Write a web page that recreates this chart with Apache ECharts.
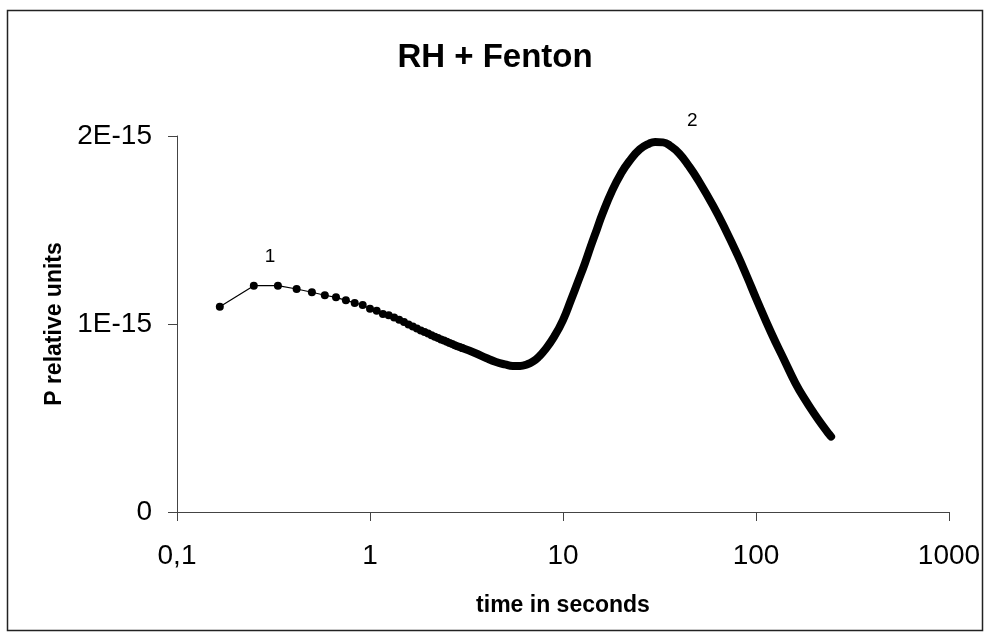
<!DOCTYPE html>
<html>
<head>
<meta charset="utf-8">
<script src="https://cdn.jsdelivr.net/npm/echarts@6/dist/echarts.min.js"></script>
<style>
  html, body { margin: 0; padding: 0; background: #fff; }
  #chart { width: 990px; height: 639px; }
</style>
</head>
<body>
<div id="chart"></div>
<script>
// early samples, one every 1/12 s (drawn as dots)
var dotTimes = [
  2/12, 3/12, 4/12, 5/12, 6/12, 7/12, 8/12, 9/12, 10/12, 11/12, 1, 13/12,
  14/12, 15/12, 16/12, 17/12, 18/12, 19/12, 20/12, 21/12, 22/12, 23/12, 2, 25/12,
  26/12, 27/12, 28/12, 29/12, 30/12, 31/12, 32/12, 33/12, 34/12, 35/12, 3
]
var dotValues = [
  1.092, 1.204, 1.204, 1.186, 1.169, 1.153, 1.142, 1.126, 1.112, 1.101, 1.081, 1.071,
  1.053, 1.046, 1.034, 1.023, 1.011, 0.998, 0.987, 0.976, 0.966, 0.957, 0.949, 0.940,
  0.932, 0.925, 0.918, 0.912, 0.906, 0.899, 0.893, 0.887, 0.882, 0.877, 0.872
]
// later part, samples so dense that the dots merge into a thick band
var bandTimes = [
  3, 3.5, 4, 4.5, 5, 5.5, 6, 6.5, 7, 7.5, 8, 9, 10, 11, 12, 13, 14, 15, 16, 18,
  20, 22, 25, 28, 30, 33, 36, 40, 45, 50, 60, 70, 80, 90, 100, 120, 140, 160, 180,
  200, 220, 240, 245
]
var bandValues = [
  0.872, 0.846, 0.819, 0.798, 0.785, 0.777, 0.777, 0.785, 0.801, 0.826, 0.858, 0.933,
  1.021, 1.128, 1.229, 1.324, 1.420, 1.505, 1.585, 1.711, 1.801, 1.864, 1.929, 1.960,
  1.968, 1.966, 1.947, 1.907, 1.839, 1.768, 1.628, 1.495, 1.370, 1.250, 1.138, 0.952,
  0.809, 0.686, 0.596, 0.524, 0.463, 0.412, 0.401
]
var unit = 1e-15
var yTicks = ['0', '1E-15', '2E-15']
var peakIndex = 27 // point the "2" label hangs on

var dots = dotTimes.map(function (t, i) {
  var item = { value: [t, dotValues[i] * unit] }
  if (i === 2) {
    item.label = { show: true, formatter: '1', position: 'top', offset: [-8, -10] }
  }
  return item
})
var band = bandTimes.map(function (t, i) {
  return [t, bandValues[i] * unit]
})

var myChart = echarts.init(document.getElementById('chart'))
myChart.setOption({
  animation: false,
  backgroundColor: '#fff',
  textStyle: { fontFamily: 'Liberation Sans, Arial, sans-serif', color: '#000' },
  title: {
    text: 'RH + Fenton',
    left: 'center',
    top: 36,
    textStyle: { fontSize: 33, fontWeight: 'bold', color: '#000', fontFamily: 'Liberation Sans' }
  },
  graphic: [{
    type: 'rect',
    shape: { x: 7.5, y: 10.5, width: 975, height: 620 },
    style: { fill: 'none', stroke: '#222', lineWidth: 1.5 },
    silent: true
  }],
  grid: { left: 177, right: 41, top: 136, bottom: 127, containLabel: false },
  xAxis: {
    type: 'log',
    logBase: 10,
    min: 0.1,
    max: 1000,
    name: 'time in seconds',
    nameLocation: 'middle',
    nameGap: 82,
    nameTextStyle: { fontSize: 23, fontWeight: 'bold', color: '#000' },
    axisLine: { lineStyle: { color: '#444', width: 1 } },
    axisTick: { show: true, inside: false, length: 9, lineStyle: { color: '#444' } },
    minorTick: { show: false },
    splitLine: { show: false },
    axisLabel: {
      fontSize: 28, color: '#000', margin: 30,
      formatter: function (v) { return String(v).replace('.', ',') }
    }
  },
  yAxis: {
    type: 'value',
    min: 0,
    max: 2 * unit,
    interval: unit,
    name: 'P relative units',
    nameLocation: 'middle',
    nameGap: 33,
    nameRotate: 90,
    nameTextStyle: { fontSize: 23, fontWeight: 'bold', color: '#000' },
    axisLine: { show: true, lineStyle: { color: '#444', width: 1 } },
    axisTick: { show: true, inside: false, length: 9, lineStyle: { color: '#444' } },
    splitLine: { show: false },
    axisLabel: {
      fontSize: 28, color: '#000', margin: 25,
      formatter: function (v) { return yTicks[Math.round(v / unit)] }
    }
  },
  series: [
    {
      type: 'line',
      data: dots,
      symbol: 'circle',
      symbolSize: 8,
      itemStyle: { color: '#000' },
      lineStyle: { color: '#000', width: 1.2 },
      label: { fontSize: 19, color: '#000' },
      z: 3
    },
    {
      type: 'line',
      data: band,
      showSymbol: false,
      smooth: 0.5,
      lineStyle: { color: '#000', width: 8, cap: 'round', join: 'round' },
      markPoint: {
        symbol: 'circle',
        symbolSize: 1,
        itemStyle: { color: 'rgba(0,0,0,0)' },
        label: { show: true, formatter: '2', fontSize: 19, color: '#000', position: 'inside', offset: [13, -33] },
        data: [{ coord: band[peakIndex] }]
      },
      z: 2
    }
  ]
})
</script>
</body>
</html>
